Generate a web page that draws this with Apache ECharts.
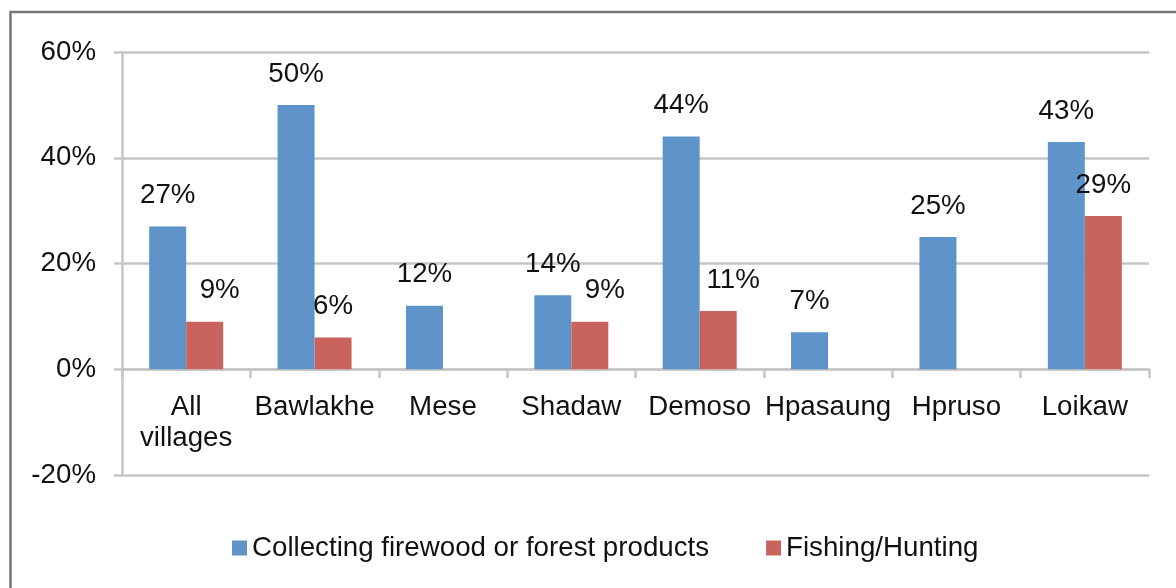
<!DOCTYPE html>
<html>
<head>
<meta charset="utf-8">
<script src="https://cdn.jsdelivr.net/npm/echarts@6/dist/echarts.min.js"></script>
<style>
html,body{margin:0;padding:0;background:#fff;}
#chart{width:1176px;height:588px;}
</style>
</head>
<body>
<div id="chart"></div>
<script>
var categories = ['All\nvillages', 'Bawlakhe', 'Mese', 'Shadaw', 'Demoso', 'Hpasaung', 'Hpruso', 'Loikaw'];
var seriesNames = ['Collecting firewood or forest products', 'Fishing/Hunting'];
var firewood = [27, 50, 12, 14, 44, 7, 25, 43];
var fishing = [9, 6, null, 9, 11, null, null, 29];
var yTicks = [-20, 0, 20, 40, 60];

var FONT = "'Liberation Sans', Arial, Helvetica, sans-serif";
var FS = 27.7;
var GRID_COLOR = '#c6c6c6';
var TEXT_COLOR = '#111';

// labels that were nudged right in the original to avoid overlapping the blue bar
var shiftedLabels = {0: true, 3: true, 4: true};

var chart = echarts.init(document.getElementById('chart'));
var option = {
  animation: false,
  backgroundColor: '#fff',
  graphic: [{
    type: 'rect',
    shape: {x: 10.5, y: 12, width: 1200, height: 620},
    style: {fill: 'none', stroke: '#777', lineWidth: 2.5},
    silent: true
  }],
  grid: {left: 122, right: 27, top: 52, bottom: 113, containLabel: false},
  legend: {
    left: 227,
    top: 529,
    itemWidth: 15,
    itemHeight: 15,
    itemGap: 57,
    icon: 'rect',
    textStyle: {fontFamily: FONT, fontSize: FS, color: TEXT_COLOR},
    data: seriesNames
  },
  xAxis: {
    type: 'category',
    data: categories,
    position: 'bottom',
    offset: -106,
    axisLine: {onZero: false, lineStyle: {color: GRID_COLOR, width: 2.5}},
    axisTick: {show: true, length: 9, alignWithLabel: false, lineStyle: {color: GRID_COLOR, width: 2.5}},
    axisLabel: {interval: 0, margin: 23, fontFamily: FONT, fontSize: FS, color: TEXT_COLOR, lineHeight: 31},
    splitLine: {show: false}
  },
  yAxis: {
    type: 'value',
    min: yTicks[0],
    max: yTicks[yTicks.length - 1],
    interval: yTicks[1] - yTicks[0],
    axisLine: {show: true, lineStyle: {color: GRID_COLOR, width: 2.5}},
    axisTick: {show: true, length: 8, lineStyle: {color: GRID_COLOR, width: 2.5}},
    axisLabel: {margin: 26, padding: [4, 0, 0, 0], fontFamily: FONT, fontSize: FS, color: TEXT_COLOR, formatter: '{value}%'},
    splitLine: {show: true, lineStyle: {color: GRID_COLOR, width: 2.5}}
  },
  series: [
    {
      name: seriesNames[0],
      type: 'bar',
      data: firewood,
      barWidth: 37,
      barGap: '0%',
      itemStyle: {color: '#5e94c9'},
      label: {
        show: true, position: 'top', distance: 17,
        fontFamily: FONT, fontSize: FS, color: TEXT_COLOR,
        formatter: '{c}%'
      }
    },
    {
      name: seriesNames[1],
      type: 'bar',
      data: fishing.map(function (v, i) {
        if (v === null) return '-';
        return shiftedLabels[i] ? {value: v, label: {offset: [15, 0]}} : v;
      }),
      barWidth: 37,
      barGap: '0%',
      itemStyle: {color: '#c9635e'},
      label: {
        show: true, position: 'top', distance: 17,
        fontFamily: FONT, fontSize: FS, color: TEXT_COLOR,
        formatter: '{c}%'
      }
    }
  ]
};
chart.setOption(option);
</script>
</body>
</html>
